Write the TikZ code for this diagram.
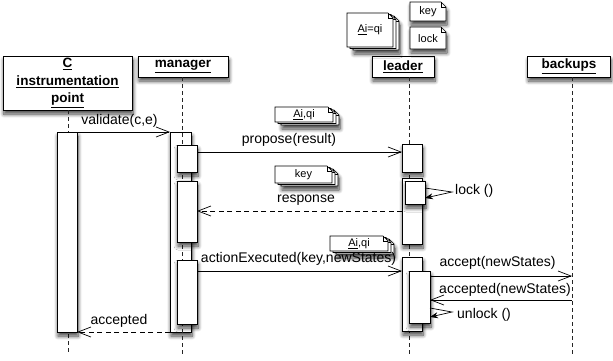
\documentclass[tikz,border=0pt]{standalone}
\usepackage{fontspec}
\setmainfont{Liberation Sans}
\usetikzlibrary{arrows.meta,shadows.blur}

% one sheet of paper with a folded corner: x, y (top left), width, height
\newcommand\sheet[4]{%
  \draw[sheetline] (#1,#2) -- (#1+#3-5,#2) -- (#1+#3,#2+5) -- (#1+#3,#2+#4) -- (#1,#2+#4) -- cycle;
  \draw[line width=0.5pt] (#1+#3-5,#2) -- (#1+#3-5,#2+5) -- (#1+#3,#2+5);}
% a pile of three sheets, the front one at x, y
\newcommand\sheetpile[4]{%
  \begin{scope}[sheetline/.append style={softshadow}]
    \sheet{#1+6}{#2+3}{#3}{#4}
  \end{scope}
  \sheet{#1+3}{#2+1.5}{#3}{#4}
  \sheet{#1}{#2}{#3}{#4}}

\begin{document}
\begin{tikzpicture}[x=1pt,y=-1pt,
  softshadow/.style={blur shadow={shadow xshift=1pt,shadow yshift=-4pt,shadow blur radius=4pt,
    shadow blur steps=8,shadow opacity=75}},
  sheetline/.style={draw,fill=white,line width=0.6pt},
  header/.style={draw,fill=white,line width=0.7pt,softshadow,inner sep=0pt,align=center,
    font=\fontsize{13.5}{17.5}\selectfont\bfseries},
  bar/.style={draw,fill=white,line width=0.7pt,softshadow,inner sep=0pt,outer sep=0pt,
    anchor=north west,minimum width=20pt},
  lifeline/.style={draw=black!85,line width=0.7pt,dash pattern=on 4pt off 3pt},
  msg/.style={draw,line width=0.7pt,-{Straight Barb[length=13pt,width=10pt,line width=0.7pt]}},
  reply/.style={msg,dash pattern=on 5pt off 3.5pt},
  selfcall/.style={draw,line width=0.7pt,-{Stealth[length=8pt,width=6pt]}},
  lbl/.style={font=\fontsize{14}{16}\selectfont,inner sep=0pt},
  notetext/.style={font=\fontsize{11}{13}\selectfont,inner sep=0pt}]
\useasboundingbox (0,0) rectangle (613,360);

% participants
\node[header,minimum width=129pt,minimum height=54pt] (hc) at (67.5,83)
  {\underline{C}\\\underline{instrumentation}\\\underline{point}};
\node[header,minimum width=90pt,minimum height=21pt] (hm) at (183,66.5) {\underline{manager}};
\node[header,minimum width=62pt,minimum height=21pt] (hl) at (403,66.5) {\underline{leader}};
\node[header,minimum width=83pt,minimum height=21pt] (hb) at (569,66.5) {\underline{backups}};

% lifelines
\coordinate (endc) at (68,355);
\coordinate (endm) at (182,355);
\coordinate (endl) at (409,355);
\coordinate (endb) at (572,355);
\draw[lifeline] (hc.south -| endc) -- (endc);
\draw[lifeline] (hl.south -| endl) -- (endl);
\draw[lifeline] (hb.south -| endb) -- (endb);

% activations
\node[bar,minimum height=200pt] (cbar) at (57,132) {};
\node[bar,minimum width=21pt,minimum height=200pt] (mout) at (170,132) {};
\draw[lifeline] (hm.south -| endm) -- (endm);
\node[bar,minimum height=27pt] (m1) at (177,145) {};
\node[bar,minimum height=61pt] (m2) at (177,181) {};
\node[bar,minimum height=64pt] (m3) at (177,260) {};
\node[bar,minimum height=28pt] (l1) at (402,144) {};
\node[bar,minimum height=66pt] (l2) at (402,178) {};
\node[bar,minimum height=23pt] (llock) at (405,181) {};
\node[bar,minimum height=74pt] (l3) at (402,257) {};
\node[bar,minimum width=21pt,minimum height=52pt] (l3in) at (409,271) {};

% notes
\sheetpile{347}{13}{46}{34}
\node[notetext] (nstate) at (370,30) {\underline{Ai}=qi};
\begin{scope}[sheetline/.append style={softshadow}]
  \sheet{410}{2}{36}{19}
  \sheet{410}{27}{36}{22}
\end{scope}
\node[notetext] (nkey) at (428,12) {key};
\node[notetext] (nlock) at (428,38.5) {lock};
\sheetpile{275}{107}{58}{15}
\node[notetext] (npropose) at (304,114.5) {\underline{Ai},qi};
\sheetpile{275}{166}{57}{17}
\node[notetext] (nresponse) at (303.5,174.5) {key};
\sheetpile{330}{236}{58}{15}
\node[notetext] (naction) at (359,243.5) {\underline{Ai},qi};

% messages
\draw[msg] (cbar.north east) -- (mout.north west);
\node[lbl,anchor=base] (tvalidate) at (119.5,124) {validate(c,e)};

\draw[msg] (m1.east |- 0,152) -- (l1.west |- 0,152);
\node[lbl,anchor=base] (tpropose) at (289,143.5) {propose(result)};

\draw[reply] (l2.west |- 0,211) -- (m2.east |- 0,211);
\node[lbl,anchor=base] (tresponse) at (306,202) {response};

\coordinate (lockturn) at (452,192);
\draw[selfcall] (llock.east |- 0,188) -- (lockturn) -- (llock.east |- 0,198);
\node[lbl,anchor=base west] (tlock) at (455,194) {lock ()};

\draw[msg] (m3.east |- 0,271) -- (l3.west |- 0,271);
\node[lbl,anchor=base] (taction) at (298.5,262) {actionExecuted(key,newStates)};

\coordinate (accb) at (572,276);
\coordinate (accdb) at (572,300);
\draw[msg] (l3in.east |- accb) -- (accb);
\node[lbl,anchor=base] (taccept) at (497.5,266) {accept(newStates)};
\draw[msg] (accdb) -- (l3in.east |- accdb);
\node[lbl,anchor=base] (taccepted) at (505,293) {accepted(newStates)};

\coordinate (unlockturn) at (452,312);
\draw[selfcall] (l3in.east |- 0,308) -- (unlockturn) -- (l3in.east |- 0,317);
\node[lbl,anchor=base west] (tunlock) at (457,318) {unlock ()};

\draw[reply] (mout.south west) -- (cbar.south east);
\node[lbl,anchor=base] (tdone) at (119,324) {accepted};
\end{tikzpicture}
\end{document}
